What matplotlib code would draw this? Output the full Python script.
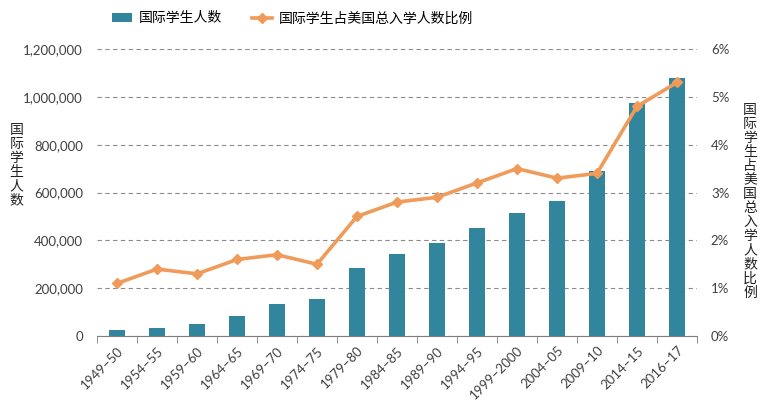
import matplotlib.pyplot as plt
import numpy as np
from matplotlib.ticker import FuncFormatter, FixedLocator

plt.rcParams['font.family'] = ['Lato', 'Noto Sans CJK SC', 'DejaVu Sans']

# data (IIE Open Doors style series)
years = ['1949–50', '1954–55', '1959–60', '1964–65', '1969–70', '1974–75',
         '1979–80', '1984–85', '1989–90', '1994–95', '1999–2000', '2004–05',
         '2009–10', '2014–15', '2016–17']
students = [26433, 34232, 48486, 82045, 134959, 154580, 286343, 342113,
            386851, 452635, 514723, 565039, 690923, 974926, 1078822]
share = [1.1, 1.4, 1.3, 1.6, 1.7, 1.5, 2.5, 2.8, 2.9, 3.2, 3.5, 3.3, 3.4, 4.8, 5.3]

bar_color = '#31859C'
line_color = '#F09B59'
grid_color = '#8C8C8C'
text_color = '#404040'

fig = plt.figure(figsize=(7.74, 4.07), dpi=100)
ax = fig.add_axes([0.1253, 0.1744, 0.7752, 0.7052])
ax2 = ax.twinx()

x = np.arange(len(years))
bars = ax.bar(x, students, width=0.42, color=bar_color, zorder=2,
              label='国际学生人数')
line, = ax2.plot(x, share, color=line_color, lw=2.6, marker='D', ms=5,
                 zorder=3, label='国际学生占美国总入学人数比例')

ax.set_xlim(-0.5, len(years) - 0.5)
ax.set_ylim(0, 1200000)
ax2.set_ylim(0, 6)
ax.set_yticks(np.arange(0, 1200001, 200000))
ax2.set_yticks(np.arange(0, 7, 1))
ax.yaxis.set_major_formatter(FuncFormatter(lambda v, p: f'{int(v):,}'))
ax2.yaxis.set_major_formatter(FuncFormatter(lambda v, p: f'{int(v)}%'))

ax.grid(axis='y', ls=(0, (4, 3)), color=grid_color, lw=0.8, zorder=0)
ax.set_axisbelow(True)

for a in (ax, ax2):
    for s in ('top', 'left', 'right'):
        a.spines[s].set_visible(False)
ax2.spines['bottom'].set_visible(False)
ax.spines['bottom'].set_color('#7F7F7F')

ax.set_xticks(x)
ax.set_xticklabels(years, rotation=45, ha='right', rotation_mode='anchor',
                   fontsize=9.5, color=text_color)
ax.tick_params(axis='x', which='major', length=0, pad=6)
ax.xaxis.set_minor_locator(FixedLocator(np.arange(-0.5, len(years), 1)))
ax.tick_params(axis='x', which='minor', length=5, color='#7F7F7F')
ax.tick_params(axis='y', length=0, labelsize=9.5, labelcolor=text_color, pad=10)
ax2.tick_params(axis='y', length=0, labelsize=9.5, labelcolor=text_color, pad=10)

fig.text(0.021, 0.595, '\n'.join('国际学生人数'), fontsize=10, color='#222222',
         ha='center', va='center', linespacing=1.0, family='Noto Sans CJK SC')
fig.text(0.969, 0.505, '\n'.join('国际学生占美国总入学人数比例'), fontsize=10,
         color='#222222', ha='center', va='center', linespacing=1.0,
         family='Noto Sans CJK SC')

fig.legend(handles=[bars, line], loc='center', bbox_to_anchor=(0.378, 0.955),
           ncol=2, frameon=False, handlelength=1.4, handleheight=0.6,
           columnspacing=2.2, handletextpad=0.5,
           prop={'family': 'Noto Sans CJK SC', 'size': 10})

fig.savefig('out.png', dpi=100)
